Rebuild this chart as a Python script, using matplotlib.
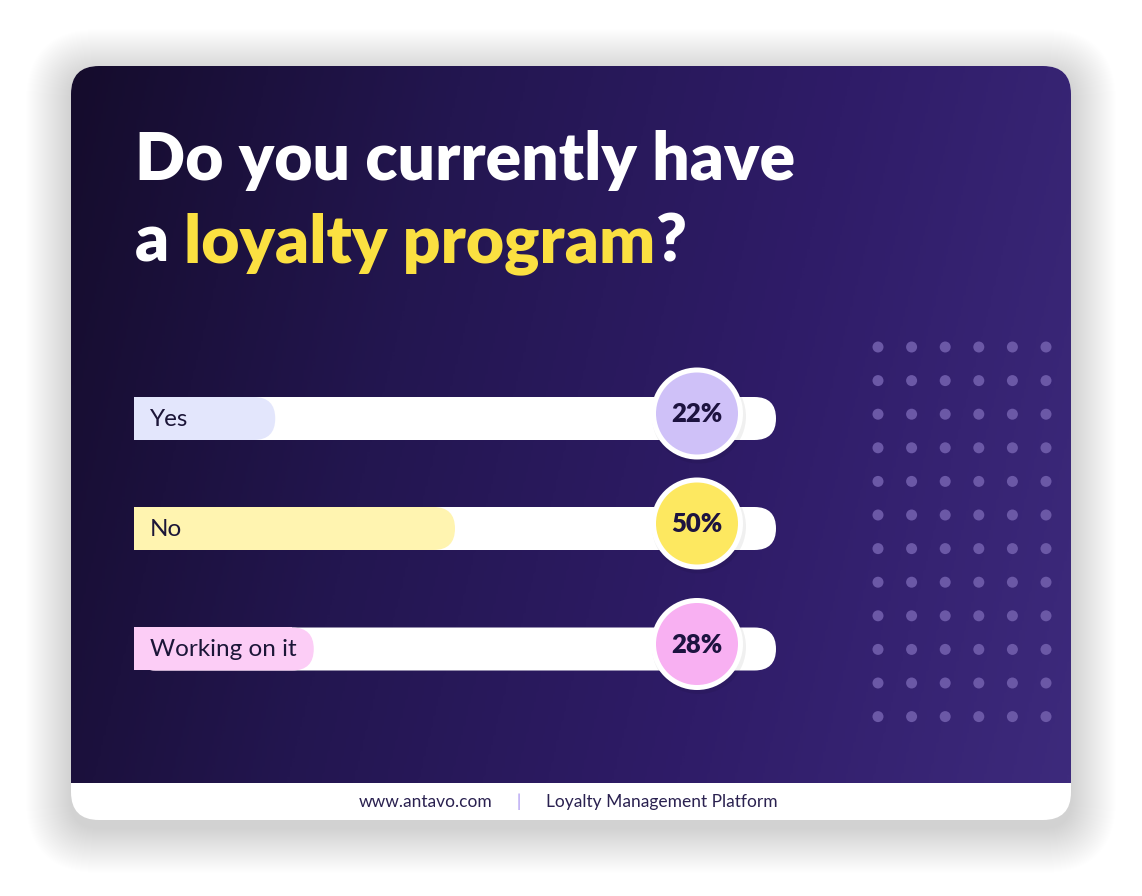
import matplotlib
matplotlib.use('Agg')
import matplotlib.pyplot as plt
from matplotlib.patches import FancyBboxPatch, Rectangle, Circle
from matplotlib.colors import LinearSegmentedColormap
import numpy as np

# Data
categories = ['Yes', 'No', 'Working on it']
percent_values = [22, 50, 28]
fill_colors = ['#e3e6fc', '#fff4b0', '#fccdf6']
badge_colors = ['#cfc1f8', '#fde860', '#f8b0f2']
title_line1 = 'Do you currently have'
title_line2 = ['a ', 'loyalty program', '?']
footer_left = 'www.antavo.com'
footer_right = 'Loyalty Management Platform'

W, H = 1142, 896
fig = plt.figure(figsize=(W / 100, H / 100), dpi=100)
fig.patch.set_facecolor('white')
ax = fig.add_axes([0, 0, 1, 1])
ax.set_xlim(0, W)
ax.set_ylim(H, 0)
ax.axis('off')

# Card geometry (pixels)
cx0, cy0, cx1, cy1 = 71, 66, 1071, 820
footer_top = 783
rad = 28

# Soft shadow around the card (stacked faint rounded boxes)
for i in range(45):
    grow = 2 + i * 2
    ax.add_patch(FancyBboxPatch((cx0 - grow / 2, cy0 - grow / 2 + 8), cx1 - cx0 + grow, cy1 - cy0 + grow,
                                boxstyle=f'round,pad=0,rounding_size={rad + grow / 2}',
                                facecolor='#5a5868', edgecolor='none', alpha=0.003, zorder=0))

# White card (footer shows through at bottom)
ax.add_patch(FancyBboxPatch((cx0, cy0), cx1 - cx0, cy1 - cy0,
                            boxstyle=f'round,pad=0,rounding_size={rad}',
                            facecolor='white', edgecolor='none', zorder=1))

# Gradient background of the card
nx, ny = 400, 300
gx = np.linspace(0, 1, nx)[None, :]
gy = np.linspace(0, 1, ny)[:, None]
t = np.clip(0.85 * gx + 0.15 * gy, 0, 1)
cmap = LinearSegmentedColormap.from_list('bg', ['#150c2c', '#231650', '#2f1c68', '#3d2a7c'])
clip = FancyBboxPatch((cx0, cy0), cx1 - cx0, cy1 - cy0,
                      boxstyle=f'round,pad=0,rounding_size={rad}',
                      facecolor='none', edgecolor='none', transform=ax.transData)
ax.add_patch(clip)
im = ax.imshow(t, cmap=cmap, extent=[cx0, cx1, footer_top, cy0], aspect='auto', zorder=2,
               interpolation='bilinear')
im.set_clip_path(clip)

# Dot grid on the right
dot_x = np.arange(6) * 33.6 + 878
dot_y = np.arange(12) * 33.6 + 347
for yy in dot_y:
    for xx in dot_x:
        ax.add_patch(Circle((xx, yy), 5.5, facecolor='#6b58a6', edgecolor='none', zorder=3))

# Title
title_font = 'Lato'
title_size = 47.5
ax.text(135, 180, title_line1, fontsize=title_size, fontweight='heavy', family=title_font,
        color='white', ha='left', va='baseline', zorder=5)
x = 135
colors2 = ['white', '#fbe041', 'white']
renderer = fig.canvas.get_renderer()
for part, col in zip(title_line2, colors2):
    txt = ax.text(x, 262, part, fontsize=title_size, fontweight='heavy', family=title_font,
                  color=col, ha='left', va='baseline', zorder=5)
    bb = txt.get_window_extent(renderer=renderer)
    x += bb.width

# Bars
track_x0, track_x1 = 134, 776
bar_h = 43
bar_centers = [418.5, 528.5, 649]
badge_x = 697
badge_r = 46
track_len = track_x1 - track_x0
for cat, val, fc, bc, yc in zip(categories, percent_values, fill_colors, badge_colors, bar_centers):
    r = bar_h / 2
    # track
    ax.add_patch(FancyBboxPatch((track_x0, yc - r), track_len, bar_h,
                                boxstyle=f'round,pad=0,rounding_size={r}',
                                facecolor='white', edgecolor='none', zorder=4))
    ax.add_patch(Rectangle((track_x0, yc - r), r * 2, bar_h, facecolor='white',
                           edgecolor='none', zorder=4))
    # fill
    w = track_len * val / 100
    ax.add_patch(FancyBboxPatch((track_x0, yc - r), w, bar_h,
                                boxstyle=f'round,pad=0,rounding_size={r}',
                                facecolor=fc, edgecolor='none', zorder=5))
    ax.add_patch(Rectangle((track_x0, yc - r), w - r, bar_h, facecolor=fc,
                           edgecolor='none', zorder=5))
    ax.text(track_x0 + 16, yc + 1, cat, fontsize=17.5, family='Lato', color='#1c1638',
            ha='left', va='center', zorder=6)
    # badge
    by = yc - 5
    ax.add_patch(Circle((badge_x + 2, by + 3), badge_r + 1, facecolor='#000000', alpha=0.06,
                        edgecolor='none', zorder=6))
    ax.add_patch(Circle((badge_x, by), badge_r, facecolor='white', edgecolor='none', zorder=7))
    ax.add_patch(Circle((badge_x, by), badge_r - 5, facecolor=bc, edgecolor='none', zorder=8))
    ax.text(badge_x, by + 1, f'{val}%', fontsize=18.5, fontweight='heavy', family='Lato',
            color='#1d1340', ha='center', va='center', zorder=9)

# Footer
fy = 802
ax.text(492, fy, footer_left, fontsize=12.5, family='Lato', color='#2a2150',
        ha='right', va='center', zorder=5)
ax.text(519, fy, '|', fontsize=12, family='Lato', color='#a58ff0',
        ha='center', va='center', zorder=5)
ax.text(546, fy, footer_right, fontsize=12.5, family='Lato', color='#2a2150',
        ha='left', va='center', zorder=5)

plt.savefig('out.png', dpi=100, facecolor='white')
